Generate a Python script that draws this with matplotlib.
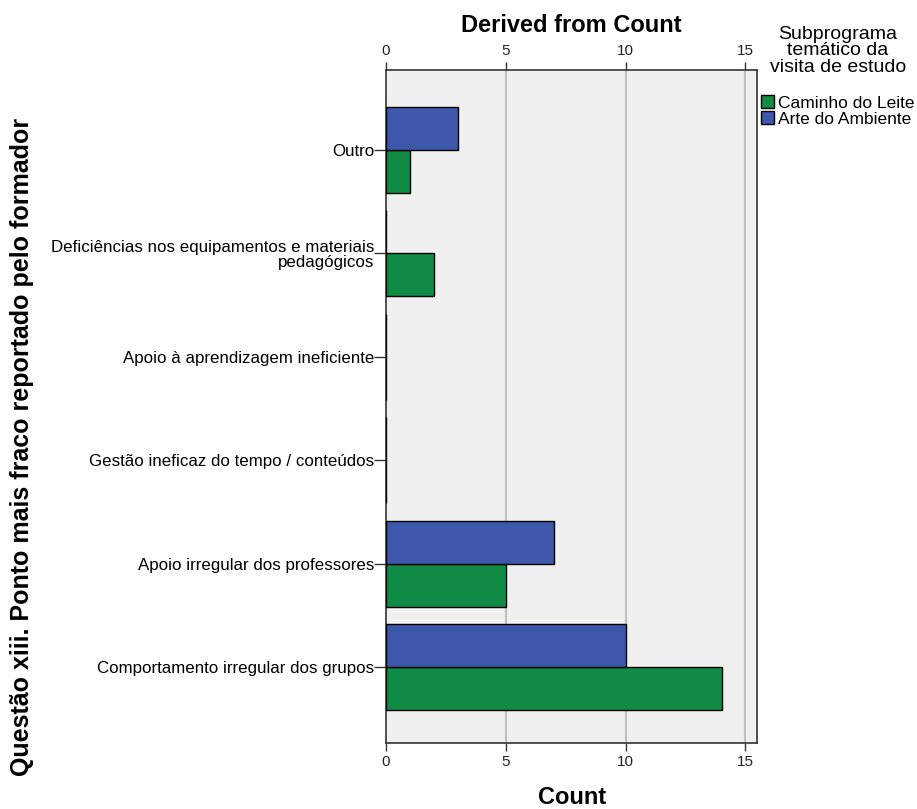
import matplotlib.pyplot as plt
import numpy as np

plt.rcParams['font.family'] = ['Liberation Sans', 'DejaVu Sans']

categories = [
    "Outro",
    "Deficiências nos equipamentos e materiais\npedagógicos",
    "Apoio à aprendizagem ineficiente",
    "Gestão ineficaz do tempo / conteúdos",
    "Apoio irregular dos professores",
    "Comportamento irregular dos grupos",
]
caminho_leite = [1, 2, 0, 0, 5, 14]
arte_ambiente = [3, 0, 0, 0, 7, 10]
series_names = ["Caminho do Leite", "Arte do Ambiente"]
colors = ["#118c46", "#3d58aa"]

fig = plt.figure(figsize=(9.17, 8.09), dpi=100)
ax = fig.add_axes([0.421, 0.0816, 0.405, 0.832])
ax.set_facecolor("#f0f0f0")

y = np.arange(len(categories))
h = 0.415
ax.barh(y + h / 2, caminho_leite, height=h, color=colors[0], edgecolor="black",
        linewidth=1, label=series_names[0], zorder=3)
ax.barh(y - h / 2, arte_ambiente, height=h, color=colors[1], edgecolor="black",
        linewidth=1, label=series_names[1], zorder=3)

ax.set_xlim(0, 15.5)
ax.set_ylim(len(categories) - 0.27, -0.77)
ax.set_xticks([0, 5, 10, 15])
ax.set_yticks(y)
ax.set_yticklabels(categories, fontsize=12.2, ha="right", linespacing=1.0)
ax.tick_params(axis="x", top=True, labeltop=True, labelsize=11, length=5.5,
               width=1, color="#333333", labelcolor="#222222", pad=3)
ax.tick_params(axis="y", length=8.5, width=1, color="#333333", pad=0)
for x in [5, 10, 15]:
    ax.axvline(x, color="#c0c0c0", linewidth=1.5, zorder=1)
for s in ax.spines.values():
    s.set_color("#333333")
    s.set_linewidth(1.2)

fig.text(0.5 * (0.421 + 0.826), 1 - 25 / 809, "Derived from Count", ha="center",
         va="center", fontsize=17, fontweight="bold")
fig.text(0.5 * (0.421 + 0.826), 1 - 797 / 809, "Count", ha="center",
         va="center", fontsize=17, fontweight="bold")
fig.text(22 / 917, 1 - 447 / 809, "Questão xiii. Ponto mais fraco reportado pelo formador",
         rotation=90, ha="center", va="center", fontsize=18, fontweight="bold")

handles, labels = ax.get_legend_handles_labels()
leg = fig.legend(handles, labels, loc="upper left", bbox_to_anchor=(0.830, 1 - 26 / 809),
                 title="Subprograma\ntemático da\nvisita de estudo", frameon=False,
                 fontsize=12.5, title_fontsize=14, handlelength=0.75, handleheight=0.75,
                 handletextpad=0.25, labelspacing=0.05, borderaxespad=0, borderpad=0.0)
leg.get_title().set_multialignment("center")
leg.get_title().set_linespacing(0.95)
leg._legend_box.sep = 14

fig.savefig("out.png", dpi=100)
